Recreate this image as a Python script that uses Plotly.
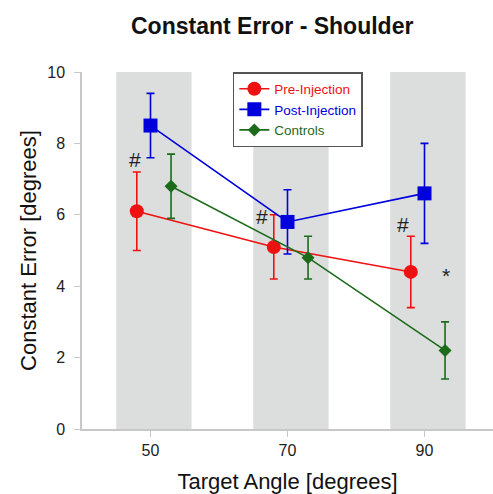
import plotly.graph_objects as go

angles = [50, 70, 90]
offsets = {"pre": -2, "post": 0, "ctrl": 3}

pre_vals = [6.1, 5.1, 4.4]
pre_err = [1.1, 0.9, 1.0]
post_vals = [8.5, 5.8, 6.6]
post_err = [0.9, 0.9, 1.4]
ctrl_vals = [6.8, 4.8, 2.2]
ctrl_err = [0.9, 0.6, 0.8]

band_ranges = [(45, 56), (65, 76), (85, 96)]

annot_x = [47.7, 66.3, 86.9, 93.2]
annot_y = [7.55, 5.95, 5.72, 4.3]
annot_text = ["#", "#", "#", "*"]

RED = "#ee1111"
BLUE = "#0000dd"
GREEN = "#1b6b1b"

fig = go.Figure()

def add_series(key, vals, err, color, symbol, size, name):
    xs = [a + offsets[key] for a in angles]
    fig.add_trace(go.Scatter(
        x=xs, y=vals, mode="lines+markers",
        name=f"<span style='color:{color}'>{name}</span>",
        line=dict(color=color, width=1.6),
        marker=dict(color=color, symbol=symbol, size=size),
        error_y=dict(type="data", array=err, visible=True, color=color, thickness=1.6, width=4),
    ))

add_series("pre", pre_vals, pre_err, RED, "circle", 14, "Pre-Injection")
add_series("post", post_vals, post_err, BLUE, "square", 14, "Post-Injection")
add_series("ctrl", ctrl_vals, ctrl_err, GREEN, "diamond", 10, "Controls")

shapes = []
for x0, x1 in band_ranges:
    shapes.append(dict(type="rect", xref="x", yref="y", x0=x0, x1=x1, y0=0, y1=10,
                       fillcolor="#dcdddd", line=dict(width=0), layer="below"))

plot_w = 493 - 82
plot_h = 494 - 72 - 65

annotations = []
for x, y, t in zip(annot_x, annot_y, annot_text):
    annotations.append(dict(x=x, y=y, xref="x", yref="y", text=t, showarrow=False,
                            font=dict(size=21, color="#222222", family="Liberation Sans")))
annotations.append(dict(x=(272 - 82) / plot_w, y=1 + (72 - 26) / plot_h, xref="paper", yref="paper",
                        xanchor="center", yanchor="middle",
                        text="<b>Constant Error - Shoulder</b>", showarrow=False,
                        font=dict(size=23, color="#111111", family="Liberation Sans")))

fig.update_layout(
    width=493, height=494,
    margin=dict(l=82, r=0, t=72, b=65),
    paper_bgcolor="white", plot_bgcolor="white",
    font=dict(family="Liberation Sans", color="#222222"),
    shapes=shapes,
    annotations=annotations,
    showlegend=True,
    legend=dict(x=0.367, y=1.0, xanchor="left", yanchor="top",
                bgcolor="white", bordercolor="#555555", borderwidth=1.5,
                font=dict(size=13.5), itemwidth=30, tracegroupgap=0),
    xaxis=dict(range=[40, 100], tickvals=angles, ticktext=[str(a) for a in angles],
               showgrid=False, zeroline=False, showline=True, linecolor="#c8c8c8", linewidth=1.5,
               ticks="outside", ticklen=6, tickcolor="#c8c8c8",
               tickfont=dict(size=16, color="#222222"),
               title=dict(text="Target Angle [degrees]", font=dict(size=22, color="#111111"), standoff=16)),
    yaxis=dict(range=[0, 10], tickvals=[0, 2, 4, 6, 8, 10],
               showgrid=False, zeroline=False, showline=True, linecolor="#c8c8c8", linewidth=1.5,
               ticks="outside", ticklen=6, tickcolor="#c8c8c8", ticklabelstandoff=6,
               tickfont=dict(size=16, color="#222222"),
               title=dict(text="Constant Error [degrees]", font=dict(size=22, color="#111111"), standoff=5)),
)

fig.write_html("out.html")
